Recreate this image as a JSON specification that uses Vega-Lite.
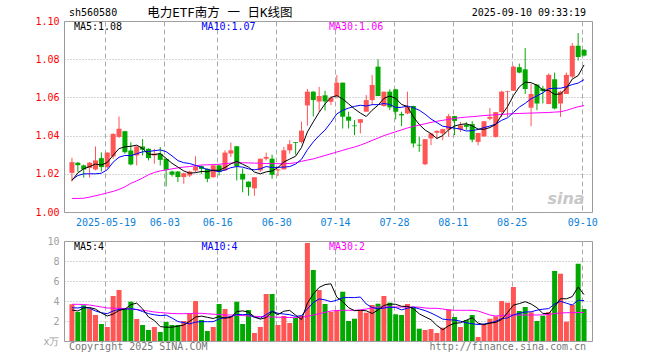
{
"$schema": "https://vega.github.io/schema/vega-lite/v6.json",
"background": "white",
"padding": {"left": 34, "top": 6, "right": 10, "bottom": 4},
"bounds": "flush",
"spacing": 29,
"config": {
  "font": "DejaVu Sans Mono",
  "view": {"stroke": "#999999", "strokeWidth": 1},
  "axis": {"labelFont": "DejaVu Sans Mono", "labelFontSize": 10, "domain": false, "ticks": false}
},
"datasets": {"k": [
{"i":0,"o":1.0205,"h":1.0284,"l":1.016,"c":1.0261,"v":3.67,"m5":1.0165,"m10":1.0169,"m30":1.0071,"v5":3.1,"v10":3.33,"v30":3.67},
{"i":1,"o":1.0258,"h":1.0262,"l":1.021,"c":1.0245,"v":2.9,"m5":1.0205,"m10":1.0191,"m30":1.0071,"v5":3.0,"v10":3.3,"v30":3.67},
{"i":2,"o":1.0244,"h":1.0248,"l":1.018,"c":1.0223,"v":3.57,"m5":1.0226,"m10":1.02,"m30":1.0072,"v5":3.3,"v10":3.4,"v30":3.65},
{"i":3,"o":1.0231,"h":1.0262,"l":1.018,"c":1.0258,"v":3.23,"m5":1.0238,"m10":1.02,"m30":1.0078,"v5":3.35,"v10":3.27,"v30":3.6},
{"i":4,"o":1.0223,"h":1.0343,"l":1.0218,"c":1.027,"v":2.6,"m5":1.0251,"m10":1.02,"m30":1.0085,"v5":3.19,"v10":3.0,"v30":3.5},
{"i":5,"o":1.0282,"h":1.0312,"l":1.0212,"c":1.0235,"v":1.7,"m5":1.0246,"m10":1.0203,"m30":1.0092,"v5":2.8,"v10":2.83,"v30":3.4},
{"i":6,"o":1.0235,"h":1.0312,"l":1.0228,"c":1.0311,"v":1.4,"m5":1.0259,"m10":1.0221,"m30":1.01,"v5":2.5,"v10":2.73,"v30":3.3},
{"i":7,"o":1.0291,"h":1.0412,"l":1.0279,"c":1.0409,"v":4.5,"m5":1.0297,"m10":1.0261,"m30":1.0108,"v5":2.69,"v10":3.0,"v30":3.28},
{"i":8,"o":1.0393,"h":1.05,"l":1.0388,"c":1.0436,"v":5.1,"m5":1.0332,"m10":1.0287,"m30":1.0118,"v5":3.06,"v10":3.17,"v30":3.27},
{"i":9,"o":1.0423,"h":1.0425,"l":1.0305,"c":1.0313,"v":3.23,"m5":1.0341,"m10":1.0296,"m30":1.0132,"v5":3.19,"v10":3.19,"v30":3.25},
{"i":10,"o":1.0322,"h":1.0365,"l":1.0244,"c":1.0249,"v":3.93,"m5":1.0344,"m10":1.0295,"m30":1.015,"v5":3.63,"v10":3.22,"v30":3.2},
{"i":11,"o":1.0296,"h":1.0345,"l":1.0244,"c":1.0343,"v":2.2,"m5":1.035,"m10":1.0305,"m30":1.0163,"v5":3.79,"v10":3.15,"v30":3.15},
{"i":12,"o":1.0343,"h":1.0382,"l":1.0296,"c":1.0326,"v":1.6,"m5":1.0333,"m10":1.0315,"m30":1.0178,"v5":3.21,"v10":2.95,"v30":3.07},
{"i":13,"o":1.0331,"h":1.0333,"l":1.027,"c":1.0282,"v":1.1,"m5":1.0303,"m10":1.0317,"m30":1.0195,"v5":2.41,"v10":2.74,"v30":3.0},
{"i":14,"o":1.0296,"h":1.0331,"l":1.0253,"c":1.0305,"v":1.4,"m5":1.0301,"m10":1.0321,"m30":1.0207,"v5":2.05,"v10":2.62,"v30":2.9},
{"i":15,"o":1.0305,"h":1.034,"l":1.0244,"c":1.0273,"v":0.9,"m5":1.0306,"m10":1.0325,"m30":1.0215,"v5":1.44,"v10":2.54,"v30":2.85},
{"i":16,"o":1.0278,"h":1.028,"l":1.0134,"c":1.0221,"v":1.9,"m5":1.0281,"m10":1.0316,"m30":1.022,"v5":1.38,"v10":2.59,"v30":2.8},
{"i":17,"o":1.0212,"h":1.0216,"l":1.0186,"c":1.0195,"v":1.6,"m5":1.0255,"m10":1.0294,"m30":1.0226,"v5":1.38,"v10":2.3,"v30":2.75},
{"i":18,"o":1.0212,"h":1.0214,"l":1.0157,"c":1.0183,"v":1.6,"m5":1.0235,"m10":1.0269,"m30":1.0231,"v5":1.48,"v10":1.95,"v30":2.73},
{"i":19,"o":1.0183,"h":1.0206,"l":1.0148,"c":1.0203,"v":2.0,"m5":1.0215,"m10":1.0258,"m30":1.0235,"v5":1.6,"v10":1.83,"v30":2.73},
{"i":20,"o":1.0191,"h":1.0217,"l":1.0183,"c":1.0212,"v":2.73,"m5":1.0203,"m10":1.0254,"m30":1.0238,"v5":1.97,"v10":1.71,"v30":2.75},
{"i":21,"o":1.0217,"h":1.0292,"l":1.0209,"c":1.0238,"v":4.0,"m5":1.0206,"m10":1.0244,"m30":1.0242,"v5":2.39,"v10":1.89,"v30":2.77},
{"i":22,"o":1.024,"h":1.0244,"l":1.02,"c":1.0226,"v":2.1,"m5":1.0212,"m10":1.0234,"m30":1.0246,"v5":2.49,"v10":1.94,"v30":2.77},
{"i":23,"o":1.0226,"h":1.0228,"l":1.0156,"c":1.0174,"v":1.0,"m5":1.0211,"m10":1.0223,"m30":1.0247,"v5":2.37,"v10":1.93,"v30":2.72},
{"i":24,"o":1.0182,"h":1.0246,"l":1.018,"c":1.0244,"v":1.4,"m5":1.0219,"m10":1.0217,"m30":1.0248,"v5":2.25,"v10":1.93,"v30":2.68},
{"i":25,"o":1.0244,"h":1.0248,"l":1.0191,"c":1.0209,"v":3.7,"m5":1.0218,"m10":1.0211,"m30":1.025,"v5":2.44,"v10":2.21,"v30":2.65},
{"i":26,"o":1.0218,"h":1.0323,"l":1.0215,"c":1.0311,"v":3.2,"m5":1.0233,"m10":1.022,"m30":1.0253,"v5":2.28,"v10":2.34,"v30":2.6},
{"i":27,"o":1.0306,"h":1.0364,"l":1.0288,"c":1.0323,"v":2.5,"m5":1.0252,"m10":1.0232,"m30":1.0256,"v5":2.36,"v10":2.43,"v30":2.6},
{"i":28,"o":1.0344,"h":1.0346,"l":1.0165,"c":1.0239,"v":3.93,"m5":1.0265,"m10":1.0238,"m30":1.0258,"v5":2.95,"v10":2.66,"v30":2.58},
{"i":29,"o":1.02,"h":1.0228,"l":1.0103,"c":1.017,"v":1.7,"m5":1.025,"m10":1.0235,"m30":1.0258,"v5":3.01,"v10":2.63,"v30":2.55},
{"i":30,"o":1.0159,"h":1.016,"l":1.0085,"c":1.013,"v":3.1,"m5":1.0235,"m10":1.0226,"m30":1.0257,"v5":2.89,"v10":2.67,"v30":2.5},
{"i":31,"o":1.0124,"h":1.0182,"l":1.0085,"c":1.0182,"v":0.8,"m5":1.0209,"m10":1.0221,"m30":1.0256,"v5":2.41,"v10":2.35,"v30":2.47},
{"i":32,"o":1.0218,"h":1.0279,"l":1.0209,"c":1.0279,"v":1.4,"m5":1.02,"m10":1.0226,"m30":1.0255,"v5":2.19,"v10":2.28,"v30":2.45},
{"i":33,"o":1.0279,"h":1.0311,"l":1.027,"c":1.0288,"v":4.7,"m5":1.021,"m10":1.0238,"m30":1.0254,"v5":2.34,"v10":2.65,"v30":2.43},
{"i":34,"o":1.0279,"h":1.03,"l":1.0174,"c":1.0195,"v":4.7,"m5":1.0215,"m10":1.0233,"m30":1.0253,"v5":2.94,"v10":2.98,"v30":2.4},
{"i":35,"o":1.0218,"h":1.0226,"l":1.0188,"c":1.0223,"v":1.6,"m5":1.0233,"m10":1.0234,"m30":1.0253,"v5":2.64,"v10":2.77,"v30":2.38},
{"i":36,"o":1.0223,"h":1.0341,"l":1.0223,"c":1.0323,"v":2.5,"m5":1.0262,"m10":1.0235,"m30":1.0253,"v5":2.98,"v10":2.7,"v30":2.36},
{"i":37,"o":1.0323,"h":1.0376,"l":1.0306,"c":1.0355,"v":1.8,"m5":1.0277,"m10":1.0238,"m30":1.0254,"v5":3.06,"v10":2.63,"v30":2.35},
{"i":38,"o":1.0366,"h":1.0366,"l":1.03,"c":1.0362,"v":2.3,"m5":1.0292,"m10":1.0251,"m30":1.0258,"v5":2.58,"v10":2.46,"v30":2.33},
{"i":39,"o":1.0366,"h":1.0473,"l":1.0359,"c":1.0426,"v":2.5,"m5":1.0338,"m10":1.0276,"m30":1.0265,"v5":2.14,"v10":2.54,"v30":2.38},
{"i":40,"o":1.0558,"h":1.0644,"l":1.0452,"c":1.063,"v":9.8,"m5":1.0419,"m10":1.0326,"m30":1.0272,"v5":3.78,"v10":3.21,"v30":2.47},
{"i":41,"o":1.063,"h":1.0632,"l":1.05,"c":1.0586,"v":7.1,"m5":1.0472,"m10":1.0367,"m30":1.0278,"v5":4.7,"v10":3.84,"v30":2.6},
{"i":42,"o":1.0579,"h":1.0655,"l":1.0525,"c":1.0607,"v":5.1,"m5":1.0522,"m10":1.04,"m30":1.0287,"v5":5.36,"v10":4.21,"v30":2.73},
{"i":43,"o":1.0611,"h":1.0635,"l":1.0531,"c":1.0579,"v":3.7,"m5":1.0566,"m10":1.0429,"m30":1.0296,"v5":5.64,"v10":4.11,"v30":2.87},
{"i":44,"o":1.0577,"h":1.0605,"l":1.056,"c":1.0598,"v":2.9,"m5":1.06,"m10":1.0469,"m30":1.0305,"v5":5.72,"v10":3.93,"v30":3.0},
{"i":45,"o":1.0607,"h":1.0717,"l":1.0595,"c":1.0677,"v":3.1,"m5":1.0609,"m10":1.0514,"m30":1.0314,"v5":4.38,"v10":4.08,"v30":3.05},
{"i":46,"o":1.0677,"h":1.0678,"l":1.0437,"c":1.0499,"v":4.93,"m5":1.0592,"m10":1.0532,"m30":1.0323,"v5":3.95,"v10":4.33,"v30":3.07},
{"i":47,"o":1.0499,"h":1.0525,"l":1.0437,"c":1.0478,"v":2.0,"m5":1.0566,"m10":1.0544,"m30":1.0332,"v5":3.33,"v10":4.35,"v30":3.07},
{"i":48,"o":1.0453,"h":1.0481,"l":1.0402,"c":1.0449,"v":2.23,"m5":1.054,"m10":1.0553,"m30":1.034,"v5":3.03,"v10":4.34,"v30":3.07},
{"i":49,"o":1.0467,"h":1.0486,"l":1.0411,"c":1.0486,"v":3.1,"m5":1.0518,"m10":1.0559,"m30":1.035,"v5":3.07,"v10":4.4,"v30":3.1},
{"i":50,"o":1.0525,"h":1.0612,"l":1.0525,"c":1.0586,"v":2.83,"m5":1.05,"m10":1.0555,"m30":1.0362,"v5":3.02,"v10":3.7,"v30":3.2},
{"i":51,"o":1.0586,"h":1.0717,"l":1.056,"c":1.0665,"v":3.6,"m5":1.0533,"m10":1.0562,"m30":1.0375,"v5":2.75,"v10":3.35,"v30":3.3},
{"i":52,"o":1.0761,"h":1.0799,"l":1.0607,"c":1.0607,"v":3.73,"m5":1.0559,"m10":1.0562,"m30":1.0387,"v5":3.1,"v10":3.22,"v30":3.4},
{"i":53,"o":1.0555,"h":1.063,"l":1.0551,"c":1.063,"v":4.5,"m5":1.0595,"m10":1.0568,"m30":1.04,"v5":3.55,"v10":3.29,"v30":3.4},
{"i":54,"o":1.063,"h":1.0642,"l":1.0534,"c":1.0548,"v":3.83,"m5":1.0607,"m10":1.0563,"m30":1.041,"v5":3.7,"v10":3.39,"v30":3.4},
{"i":55,"o":1.0642,"h":1.0645,"l":1.0485,"c":1.0525,"v":2.67,"m5":1.0595,"m10":1.0547,"m30":1.042,"v5":3.67,"v10":3.35,"v30":3.4},
{"i":56,"o":1.0513,"h":1.0525,"l":1.045,"c":1.0506,"v":2.6,"m5":1.0563,"m10":1.0548,"m30":1.043,"v5":3.47,"v10":3.11,"v30":3.4},
{"i":57,"o":1.0516,"h":1.063,"l":1.0512,"c":1.0551,"v":3.7,"m5":1.0552,"m10":1.0555,"m30":1.044,"v5":3.46,"v10":3.28,"v30":3.4},
{"i":58,"o":1.0555,"h":1.0557,"l":1.0338,"c":1.0359,"v":3.4,"m5":1.0498,"m10":1.0546,"m30":1.0448,"v5":3.24,"v10":3.4,"v30":3.4},
{"i":59,"o":1.0352,"h":1.0394,"l":1.0315,"c":1.0348,"v":1.23,"m5":1.0458,"m10":1.0533,"m30":1.0455,"v5":2.72,"v10":3.21,"v30":3.38},
{"i":60,"o":1.025,"h":1.0381,"l":1.0245,"c":1.0381,"v":1.1,"m5":1.0429,"m10":1.0512,"m30":1.0462,"v5":2.41,"v10":3.04,"v30":3.3},
{"i":61,"o":1.0385,"h":1.0411,"l":1.035,"c":1.0411,"v":1.2,"m5":1.041,"m10":1.0487,"m30":1.0469,"v5":2.13,"v10":2.8,"v30":3.27},
{"i":62,"o":1.0415,"h":1.0427,"l":1.0381,"c":1.0425,"v":0.8,"m5":1.0385,"m10":1.0468,"m30":1.0475,"v5":1.55,"v10":2.51,"v30":3.27},
{"i":63,"o":1.0411,"h":1.0436,"l":1.0376,"c":1.0434,"v":1.33,"m5":1.04,"m10":1.0449,"m30":1.048,"v5":1.13,"v10":2.19,"v30":3.2},
{"i":64,"o":1.0432,"h":1.0513,"l":1.0394,"c":1.0502,"v":3.17,"m5":1.0431,"m10":1.0444,"m30":1.0485,"v5":1.52,"v10":2.12,"v30":3.1},
{"i":65,"o":1.0502,"h":1.0504,"l":1.0402,"c":1.0477,"v":2.4,"m5":1.045,"m10":1.0439,"m30":1.049,"v5":1.78,"v10":2.1,"v30":3.07},
{"i":66,"o":1.0432,"h":1.0472,"l":1.0419,"c":1.0453,"v":1.4,"m5":1.0458,"m10":1.0434,"m30":1.0494,"v5":1.82,"v10":1.98,"v30":3.07},
{"i":67,"o":1.0458,"h":1.047,"l":1.043,"c":1.0446,"v":2.1,"m5":1.0462,"m10":1.0424,"m30":1.0497,"v5":2.08,"v10":1.82,"v30":3.07},
{"i":68,"o":1.046,"h":1.0475,"l":1.0365,"c":1.0379,"v":2.6,"m5":1.0451,"m10":1.0426,"m30":1.0499,"v5":2.33,"v10":1.73,"v30":3.07},
{"i":69,"o":1.0367,"h":1.0414,"l":1.0349,"c":1.0414,"v":0.4,"m5":1.0434,"m10":1.0432,"m30":1.0502,"v5":1.78,"v10":1.65,"v30":3.0},
{"i":70,"o":1.0396,"h":1.0477,"l":1.0393,"c":1.0475,"v":1.6,"m5":1.0433,"m10":1.0442,"m30":1.0505,"v5":1.62,"v10":1.7,"v30":2.8},
{"i":71,"o":1.0488,"h":1.0544,"l":1.0481,"c":1.0498,"v":2.23,"m5":1.0442,"m10":1.045,"m30":1.0507,"v5":1.79,"v10":1.81,"v30":2.6},
{"i":72,"o":1.0393,"h":1.0523,"l":1.0389,"c":1.0523,"v":2.47,"m5":1.0458,"m10":1.046,"m30":1.0509,"v5":1.86,"v10":1.97,"v30":2.5},
{"i":73,"o":1.0523,"h":1.0635,"l":1.0498,"c":1.063,"v":4.0,"m5":1.0508,"m10":1.048,"m30":1.0511,"v5":2.14,"v10":2.24,"v30":2.55},
{"i":74,"o":1.063,"h":1.0635,"l":1.0498,"c":1.0633,"v":3.83,"m5":1.0552,"m10":1.0493,"m30":1.0513,"v5":2.83,"v10":2.31,"v30":2.6},
{"i":75,"o":1.0635,"h":1.0765,"l":1.0635,"c":1.0761,"v":5.4,"m5":1.0609,"m10":1.0521,"m30":1.0515,"v5":3.59,"v10":2.61,"v30":2.6},
{"i":76,"o":1.0758,"h":1.0777,"l":1.0726,"c":1.073,"v":3.0,"m5":1.0655,"m10":1.0549,"m30":1.0516,"v5":3.74,"v10":2.77,"v30":2.6},
{"i":77,"o":1.0747,"h":1.0858,"l":1.0618,"c":1.0644,"v":3.4,"m5":1.068,"m10":1.0569,"m30":1.0517,"v5":3.93,"v10":2.9,"v30":2.6},
{"i":78,"o":1.0546,"h":1.067,"l":1.0449,"c":1.0618,"v":2.87,"m5":1.0677,"m10":1.0593,"m30":1.0518,"v5":3.7,"v10":2.92,"v30":2.6},
{"i":79,"o":1.0667,"h":1.0668,"l":1.0533,"c":1.0568,"v":2.0,"m5":1.0664,"m10":1.0608,"m30":1.0519,"v5":3.33,"v10":3.08,"v30":2.6},
{"i":80,"o":1.0646,"h":1.066,"l":1.0568,"c":1.0633,"v":2.53,"m5":1.0639,"m10":1.0624,"m30":1.052,"v5":2.76,"v10":3.18,"v30":2.62},
{"i":81,"o":1.0565,"h":1.0726,"l":1.0565,"c":1.0718,"v":2.9,"m5":1.0636,"m10":1.0646,"m30":1.0521,"v5":2.74,"v10":3.24,"v30":2.65},
{"i":82,"o":1.0695,"h":1.073,"l":1.0537,"c":1.0542,"v":7.0,"m5":1.0616,"m10":1.0648,"m30":1.0523,"v5":3.46,"v10":3.7,"v30":2.75},
{"i":83,"o":1.0568,"h":1.0635,"l":1.0498,"c":1.063,"v":6.73,"m5":1.0618,"m10":1.0648,"m30":1.0525,"v5":4.23,"v10":3.97,"v30":2.8},
{"i":84,"o":1.0618,"h":1.073,"l":1.0618,"c":1.0718,"v":1.93,"m5":1.0648,"m10":1.0656,"m30":1.0532,"v5":4.22,"v10":3.78,"v30":2.83},
{"i":85,"o":1.0709,"h":1.0884,"l":1.07,"c":1.087,"v":3.63,"m5":1.0696,"m10":1.0667,"m30":1.0542,"v5":4.44,"v10":3.6,"v30":2.83},
{"i":86,"o":1.087,"h":1.0937,"l":1.0793,"c":1.0811,"v":7.73,"m5":1.0714,"m10":1.0675,"m30":1.0551,"v5":5.4,"v10":4.07,"v30":2.85},
{"i":87,"o":1.0849,"h":1.0853,"l":1.0814,"c":1.0819,"v":3.2,"m5":1.077,"m10":1.0693,"m30":1.0557,"v5":4.64,"v10":4.05,"v30":2.85}
]},
"vconcat": [
{
  "width": 528, "height": 191,
  "data": {"name": "k"},
  "layer": [
    {"mark": {"type": "rule", "strokeWidth": 1},
     "encoding": {
       "x": {"field": "i", "type": "quantitative", "title": null, "scale": {"domain": [-0.5, 87.5], "nice": false, "zero": false},
             "axis": {"values": [5.7,15.7,24.7,34.7,44.7,54.7,64.7,74.7,86.7], "tickCount": 30, "labelExpr": "datum.value < 10 ? '2025-05-19' : datum.value < 20 ? '06-03' : datum.value < 30 ? '06-16' : datum.value < 40 ? '06-30' : datum.value < 50 ? '07-14' : datum.value < 60 ? '07-28' : datum.value < 70 ? '08-11' : datum.value < 80 ? '08-25' : '09-10'", "labelColor": "#0a7fd9", "labelPadding": 5, "labelFlush": 8, "labelFlushOffset": 0, "labelOverlap": false, "grid": true, "gridColor": "#aaaaaa", "gridDash": [5,3], "title": null}},
       "y": {"field": "l", "type": "quantitative", "title": null, "scale": {"domain": [1.0, 1.1], "nice": false, "zero": false},
             "axis": {"values": [1.0,1.02,1.04,1.06,1.08,1.1], "tickCount": 30, "format": ".2f", "labelColor": "#ff0000", "labelPadding": 5, "labelOverlap": false, "labelFlush": false, "grid": true, "gridColor": "#aaaaaa", "gridDash": [1,2], "title": null}},
       "y2": {"field": "h"},
       "color": {"condition": {"test": "datum.c >= datum.o", "value": "#ff5555"}, "value": "#00a800"}
     }},
    {"mark": {"type": "bar", "size": 5, "orient": "vertical"},
     "encoding": {
       "x": {"field": "i", "type": "quantitative", "title": null},
       "y": {"field": "o", "type": "quantitative", "title": null},
       "y2": {"field": "c"},
       "color": {"condition": {"test": "datum.c >= datum.o", "value": "#ff5555"}, "value": "#00a800"}
     }},
    {"mark": {"type": "line", "color": "#ff00ff", "strokeWidth": 1},
     "encoding": {"x": {"field": "i", "type": "quantitative", "title": null}, "y": {"field": "m30", "type": "quantitative", "title": null}}},
    {"mark": {"type": "line", "color": "#0000ff", "strokeWidth": 1},
     "encoding": {"x": {"field": "i", "type": "quantitative", "title": null}, "y": {"field": "m10", "type": "quantitative", "title": null}}},
    {"mark": {"type": "line", "color": "#000000", "strokeWidth": 1},
     "encoding": {"x": {"field": "i", "type": "quantitative", "title": null}, "y": {"field": "m5", "type": "quantitative", "title": null}}},
    {"data": {"values": [{}]},
     "mark": {"type": "text", "align": "right", "baseline": "alphabetic", "fontSize": 16, "fontStyle": "italic", "fontWeight": "bold", "font": "DejaVu Sans", "color": "#c8c8c8"},
     "encoding": {"x": {"datum": 87.1}, "y": {"datum": 1.004}, "text": {"value": "sina"}}},
    {"data": {"values": [{}]},
     "mark": {"type": "text", "align": "left", "baseline": "middle", "fontSize": 10, "color": "#000000", "dy": -8},
     "encoding": {"x": {"datum": -0.5}, "y": {"datum": 1.1}, "text": {"value": "sh560580"}}},
    {"data": {"values": [{}]},
     "mark": {"type": "text", "align": "left", "baseline": "middle", "fontSize": 12.5, "font": "DejaVu Sans Mono, Noto Sans CJK SC", "color": "#000000", "dy": -8.5},
     "encoding": {"x": {"datum": 12.8}, "y": {"datum": 1.1}, "text": {"value": "电力ETF南方 一 日K线图"}}},
    {"data": {"values": [{}]},
     "mark": {"type": "text", "align": "right", "baseline": "middle", "fontSize": 10, "color": "#000000", "dy": -8},
     "encoding": {"x": {"datum": 87.35}, "y": {"datum": 1.1}, "text": {"value": "2025-09-10 09:33:19"}}},
    {"data": {"values": [{}]},
     "mark": {"type": "text", "align": "left", "baseline": "middle", "fontSize": 10, "color": "#000000", "dy": 5.5},
     "encoding": {"x": {"datum": 0.33}, "y": {"datum": 1.1}, "text": {"value": "MA5:1.08"}}},
    {"data": {"values": [{}]},
     "mark": {"type": "text", "align": "left", "baseline": "middle", "fontSize": 10, "color": "#0000ff", "dy": 5.5},
     "encoding": {"x": {"datum": 22.0}, "y": {"datum": 1.1}, "text": {"value": "MA10:1.07"}}},
    {"data": {"values": [{}]},
     "mark": {"type": "text", "align": "left", "baseline": "middle", "fontSize": 10, "color": "#ff00ff", "dy": 5.5},
     "encoding": {"x": {"datum": 43.67}, "y": {"datum": 1.1}, "text": {"value": "MA30:1.06"}}}
  ]
},
{
  "width": 528, "height": 100,
  "data": {"name": "k"},
  "layer": [
    {"mark": {"type": "bar", "size": 5, "orient": "vertical"},
     "encoding": {
       "x": {"field": "i", "type": "quantitative", "title": null, "scale": {"domain": [-0.5, 87.5], "nice": false, "zero": false},
             "axis": {"values": [5.7,15.7,24.7,34.7,44.7,54.7,64.7,74.7,86.7], "tickCount": 30, "labels": false, "grid": true, "gridColor": "#aaaaaa", "gridDash": [5,3], "title": null}},
       "y": {"field": "v", "type": "quantitative", "title": null, "scale": {"domain": [0, 10], "nice": false},
             "axis": {"values": [0,2,4,6,8,10], "tickCount": 30, "format": "d", "labelExpr": "datum.value == 0 ? 'x万' : datum.label", "labelColor": "#a0a0a0", "labelPadding": 5, "labelOverlap": false, "labelFlush": false, "grid": true, "gridColor": "#aaaaaa", "gridDash": [1,2], "title": null}},
       "color": {"condition": {"test": "datum.c >= datum.o", "value": "#ff5555"}, "value": "#00a800"}
     }},
    {"mark": {"type": "line", "color": "#ff00ff", "strokeWidth": 1},
     "encoding": {"x": {"field": "i", "type": "quantitative", "title": null}, "y": {"field": "v30", "type": "quantitative", "title": null}}},
    {"mark": {"type": "line", "color": "#0000ff", "strokeWidth": 1},
     "encoding": {"x": {"field": "i", "type": "quantitative", "title": null}, "y": {"field": "v10", "type": "quantitative", "title": null}}},
    {"mark": {"type": "line", "color": "#000000", "strokeWidth": 1},
     "encoding": {"x": {"field": "i", "type": "quantitative", "title": null}, "y": {"field": "v5", "type": "quantitative", "title": null}}},
    {"data": {"values": [{}]},
     "mark": {"type": "text", "align": "left", "baseline": "middle", "fontSize": 10, "color": "#000000", "dy": 6},
     "encoding": {"x": {"datum": 0.33}, "y": {"datum": 10}, "text": {"value": "MA5:4"}}},
    {"data": {"values": [{}]},
     "mark": {"type": "text", "align": "left", "baseline": "middle", "fontSize": 10, "color": "#0000ff", "dy": 6},
     "encoding": {"x": {"datum": 22.0}, "y": {"datum": 10}, "text": {"value": "MA10:4"}}},
    {"data": {"values": [{}]},
     "mark": {"type": "text", "align": "left", "baseline": "middle", "fontSize": 10, "color": "#ff00ff", "dy": 6},
     "encoding": {"x": {"datum": 43.67}, "y": {"datum": 10}, "text": {"value": "MA30:2"}}},
    {"data": {"values": [{}]},
     "mark": {"type": "text", "align": "left", "baseline": "middle", "fontSize": 10, "color": "#777777", "dy": 6},
     "encoding": {"x": {"datum": -0.5}, "y": {"datum": 0}, "text": {"value": "Copyright 2025 SINA.COM"}}},
    {"data": {"values": [{}]},
     "mark": {"type": "text", "align": "right", "baseline": "middle", "fontSize": 10, "color": "#777777", "dy": 6},
     "encoding": {"x": {"datum": 87.35}, "y": {"datum": 0}, "text": {"value": "http://finance.sina.com.cn"}}}
  ]
}
]
}
